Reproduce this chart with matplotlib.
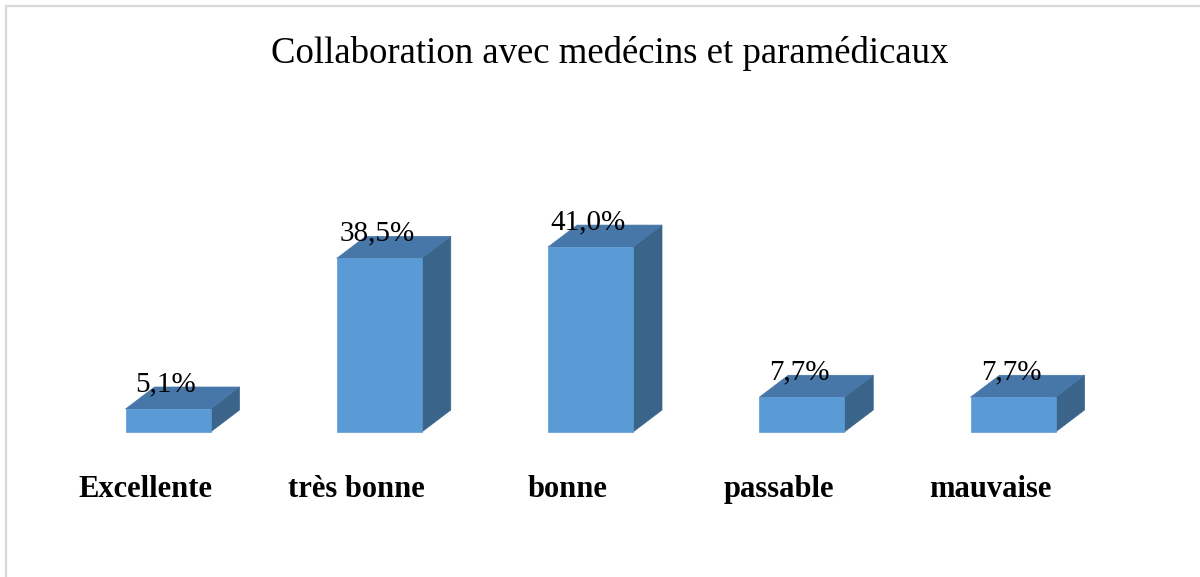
import matplotlib.pyplot as plt
from matplotlib.patches import Polygon
from matplotlib.lines import Line2D

categories = ['Excellente', 'très bonne', 'bonne', 'passable', 'mauvaise']
values = [5.1, 38.5, 41.0, 7.7, 7.7]
value_labels = ['5,1%', '38,5%', '41,0%', '7,7%', '7,7%']
title = 'Collaboration avec medécins et paramédicaux'

front_color = '#5B9BD5'
top_color = '#4677A8'
side_color = '#3A6489'

plt.rcParams['font.family'] = ['Liberation Serif', 'DejaVu Serif']

fig = plt.figure(figsize=(12, 5.77), dpi=100)
ax = fig.add_axes([0, 0, 1, 1])
# pixel layout: category step ~211px, 4.51px per percent, baseline at 145px from bottom
step_px = 211.25
pct_px = 4.51
ax.set_xlim(-168 / step_px, (1200 - 168) / step_px)
ax.set_ylim(-145 / pct_px, (577 - 145) / pct_px)
ax.axis('off')

width = 85 / step_px
dx = 29 / step_px     # depth of the fake 3D box
dy = 22 / pct_px

for i, v in enumerate(values):
    x0 = i - width / 2
    x1 = i + width / 2
    front = [(x0, 0), (x1, 0), (x1, v), (x0, v)]
    top = [(x0, v), (x1, v), (x1 + dx, v + dy), (x0 + dx, v + dy)]
    side = [(x1, 0), (x1 + dx, dy), (x1 + dx, v + dy), (x1, v)]
    ax.add_patch(Polygon(side, closed=True, facecolor=side_color, edgecolor=side_color, lw=0.5))
    ax.add_patch(Polygon(top, closed=True, facecolor=top_color, edgecolor=top_color, lw=0.5))
    ax.add_patch(Polygon(front, closed=True, facecolor=front_color, edgecolor=front_color, lw=0.5))
    ax.text(i - 0.01, v + 18 / pct_px, value_labels[i], ha='center', va='baseline',
            fontsize=21, color='black')
    ax.text(i - 23 / step_px, -65 / pct_px, categories[i], ha='center', va='baseline',
            fontsize=22, fontweight='bold', color='black')

fig.text(0.508, 1 - 63 / 577, title, ha='center', va='baseline', fontsize=26.5)

# light grey chart frame (only top and left edges visible)
fig.add_artist(Line2D([6 / 1200, 6 / 1200], [0, 1 - 6 / 577], transform=fig.transFigure,
                      color='#D9D9D9', lw=1.6))
fig.add_artist(Line2D([6 / 1200, 1], [1 - 6 / 577, 1 - 6 / 577], transform=fig.transFigure,
                      color='#D9D9D9', lw=1.6))

fig.savefig('out.png', dpi=100)
